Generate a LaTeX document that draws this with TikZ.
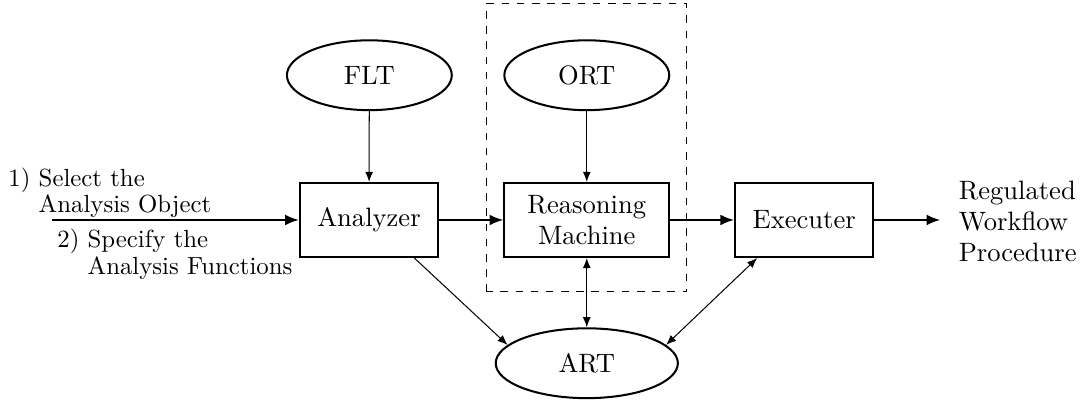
\documentclass[tikz,border=0pt]{standalone}
\usetikzlibrary{shapes.geometric,arrows.meta}

\newcommand{\nodefont}{\fontsize{10.5}{12.3}\selectfont}
\newcommand{\notefont}{\fontsize{9.8}{10.5}\selectfont}

\tikzset{
  block/.style={draw,thick,minimum height=1.03cm,align=center},
  store/.style={ellipse,draw,thick,minimum width=2.29cm,minimum height=0.97cm},
  flow/.style={thick,-{Latex[length=1.9mm,width=1.5mm]}},
  link/.style={-{Latex[length=1.4mm,width=1.1mm]}},
  twoway/.style={{Latex[length=1.4mm,width=1.1mm]}-{Latex[length=1.4mm,width=1.1mm]}},
  note/.style={anchor=west,inner sep=0pt,font=\notefont},
}

\begin{document}
\begin{tikzpicture}[every node/.append style={font=\nodefont}]
\useasboundingbox (0,0) rectangle (15.056,5.625);

% reasoning part
\draw[dashed] (6.76,1.57) rectangle (9.54,5.58);

\node[store] (flt) at (5.13,4.58) {FLT};
\node[store] (ort) at (8.15,4.58) {ORT};
\node[block,minimum width=1.92cm] (analyzer) at (5.125,2.57) {Analyzer};
\node[block,minimum width=2.29cm] (reasoning) at (8.15,2.57) {Reasoning\\Machine};
\node[block,minimum width=1.92cm] (executer) at (11.17,2.57) {Executer};
\node[store,minimum width=2.53cm] (art) at (8.15,0.58) {ART};

% input and output
\coordinate (in) at (0.72,2.57);
\coordinate (out) at (13.06,2.57);
\node[note] (select) at (0.11,2.93)
  {\begin{tabular}{@{}l@{ }l}1)&Select the\\&Analysis Object\end{tabular}};
\node[note] (specify) at (0.79,2.07)
  {\begin{tabular}{@{}l@{ }l}2)&Specify the\\&Analysis Functions\end{tabular}};
\node[anchor=west,align=left,inner sep=0pt] (result) at (13.31,2.55)
  {Regulated\\Workflow\\Procedure};

\draw[flow] (in) -- (analyzer);
\draw[flow] (analyzer) -- (reasoning);
\draw[flow] (reasoning) -- (executer);
\draw[flow] (executer) -- (out);

\draw[link] (flt) -- (analyzer);
\draw[link] (ort) -- (reasoning);
\draw[link] (analyzer.-40) -- (art.167);
\draw[twoway] (reasoning) -- (art);
\draw[twoway] (executer.-141) -- (art.13);
\end{tikzpicture}
\end{document}
